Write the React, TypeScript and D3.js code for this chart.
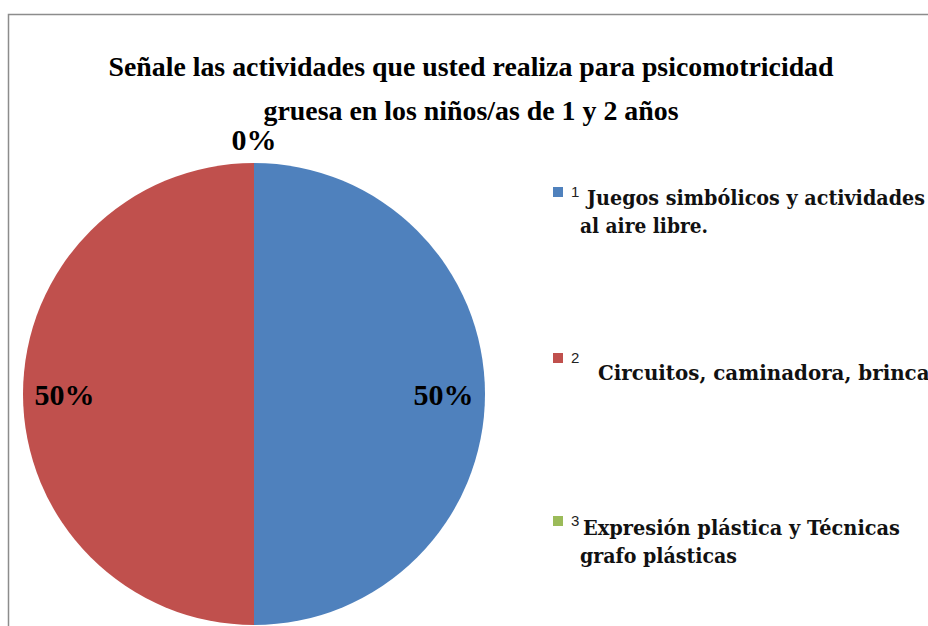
import React, { useEffect, useRef } from 'react';
import * as d3 from 'd3';

const categories = ['1', '2', '3'];
const legendLines = [
  ['Juegos simbólicos y actividades', 'al aire libre.'],
  ['Circuitos, caminadora, brincar'],
  ['Expresión plástica y Técnicas', 'grafo plásticas'],
];
const values = [50, 50, 0];
const colors = ['#4F81BD', '#C0504D', '#9BBB59'];
const titleLines = [
  'Señale las actividades que usted realiza para psicomotricidad',
  'gruesa en los niños/as de 1 y 2 años',
];

const W = 928;
const H = 626;
const TITLE_FONT = '"Liberation Serif", serif';
const LEGEND_FONT = '"DejaVu Serif", serif';

const App = () => {
  const ref = useRef<SVGSVGElement>(null);

  useEffect(() => {
    const svg = d3.select(ref.current);
    svg.selectAll('*').remove();

    svg.append('rect').attr('width', W).attr('height', H).attr('fill', '#fff');

    // chart frame
    svg
      .append('rect')
      .attr('x', 8.5)
      .attr('y', 14.5)
      .attr('width', 1000)
      .attr('height', 800)
      .attr('fill', 'none')
      .attr('stroke', '#8c8c8c')
      .attr('stroke-width', 1.5);

    // title
    const titleY = [76, 120];
    const titleW = [725, 415];
    titleLines.forEach((t, i) => {
      svg
        .append('text')
        .attr('x', 471)
        .attr('y', titleY[i])
        .attr('text-anchor', 'middle')
        .style('font-family', TITLE_FONT)
        .attr('font-weight', 'bold')
        .attr('font-size', 27)
        .attr('textLength', titleW[i])
        .attr('lengthAdjust', 'spacingAndGlyphs')
        .attr('fill', '#000')
        .text(t);
    });

    const cx = 254;
    const cy = 394;
    const r = 231;

    const pie = d3
      .pie<number>()
      .sort(null)
      .value((d) => d)
      .startAngle(0)
      .endAngle(2 * Math.PI);
    const arcs = pie(values);
    const arc = d3.arc<d3.PieArcDatum<number>>().innerRadius(0).outerRadius(r);
    const inner = d3.arc<d3.PieArcDatum<number>>().innerRadius(r * 0.82).outerRadius(r * 0.82);
    const outer = d3.arc<d3.PieArcDatum<number>>().innerRadius(r + 24).outerRadius(r + 24);

    const g = svg.append('g').attr('transform', `translate(${cx},${cy})`);
    g.selectAll('path')
      .data(arcs)
      .enter()
      .append('path')
      .attr('d', arc)
      .attr('fill', (_, i) => colors[i]);

    // percent labels, the empty slice gets its label outside the pie
    g.selectAll('text.lbl')
      .data(arcs)
      .enter()
      .append('text')
      .attr('class', 'lbl')
      .attr('transform', (d) => {
        const [x, y] = d.value > 0 ? inner.centroid(d) : outer.centroid(d);
        return `translate(${x},${y})`;
      })
      .attr('text-anchor', 'middle')
      .attr('dy', '0.35em')
      .style('font-family', TITLE_FONT)
      .attr('font-weight', 'bold')
      .attr('font-size', 30)
      .attr('fill', '#000')
      .text((d) => `${d.value}%`);

    // legend
    const legendY = [192, 358, 521];
    const textX = [587, 598, 583];
    const textY = [205, 380, 535];
    const lineW = [[338, 128], [342], [317, 157]];
    const leg = svg.append('g');
    categories.forEach((c, i) => {
      leg
        .append('rect')
        .attr('x', 553)
        .attr('y', legendY[i] - 5)
        .attr('width', 10)
        .attr('height', 10)
        .attr('fill', colors[i]);
      leg
        .append('text')
        .attr('x', 571)
        .attr('y', legendY[i] + 5)
        .style('font-family', '"Liberation Sans", sans-serif')
        .attr('font-size', 15)
        .attr('fill', '#222')
        .text(c);
      legendLines[i].forEach((line, j) => {
        leg
          .append('text')
          .attr('x', j === 0 ? textX[i] : 580)
          .attr('y', textY[i] + j * 28)
          .style('font-family', LEGEND_FONT)
          .attr('font-weight', 'bold')
          .attr('font-size', 20)
          .attr('textLength', lineW[i][j])
          .attr('lengthAdjust', 'spacingAndGlyphs')
          .attr('fill', '#111')
          .text(line);
      });
    });
  }, []);

  return (
    <svg
      ref={ref}
      width={W}
      height={H}
      style={{ position: 'absolute', left: 0, top: 0 }}
    />
  );
};

export default App;
